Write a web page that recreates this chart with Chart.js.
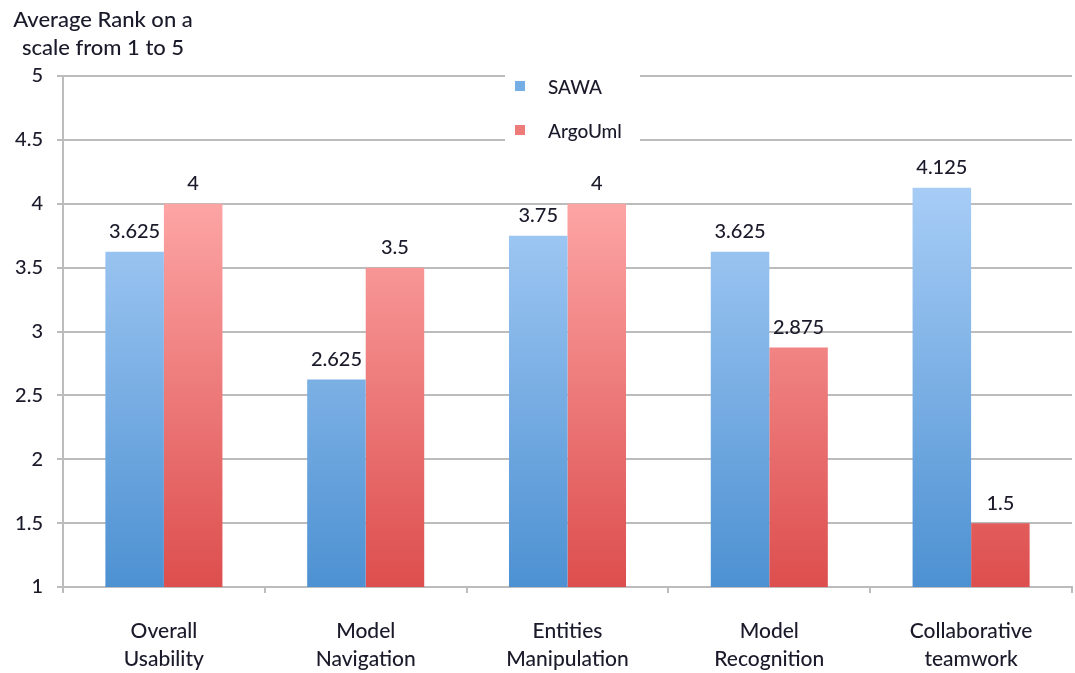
<!DOCTYPE html>
<html>
<head>
<meta charset="utf-8">
<script src="https://cdn.jsdelivr.net/npm/chart.js@4"></script>
<style>
html,body{margin:0;padding:0;background:#fff;}
#wrap{width:1075px;height:673px;position:relative;}
</style>
</head>
<body>
<div id="wrap"><canvas id="c" width="1075" height="673"></canvas></div>
<script>
const categories = [["Overall","Usability"],["Model","Navigation"],["Entities","Manipulation"],["Model","Recognition"],["Collaborative","teamwork"]];
const seriesNames = ["SAWA","ArgoUml"];
const sawaValues = [3.625, 2.625, 3.75, 3.625, 4.125];
const argoValues = [4, 3.5, 4, 2.875, 1.5];
const yTicks = [1, 1.5, 2, 2.5, 3, 3.5, 4, 4.5, 5];
const yTitle = ["Average Rank on a","scale from 1 to 5"];

const FONT = "Lato, 'Open Sans', sans-serif";
const TXT = "#1a1a2a";
const gridColor = "#bcbcbc";

function grad(ctx, top, bottom){
  const chart = ctx.chart;
  const area = chart.chartArea;
  if(!area) return bottom;
  const g = chart.ctx.createLinearGradient(0, area.top + (area.bottom-area.top)*0.2, 0, area.bottom);
  g.addColorStop(0, top);
  g.addColorStop(1, bottom);
  return g;
}

const labelPlugin = {
  id: 'valueLabels',
  afterDatasetsDraw(chart){
    const c = chart.ctx;
    c.save();
    c.font = "500 20px " + FONT;
    c.fillStyle = TXT;
    c.textAlign = "center";
    c.textBaseline = "middle";
    chart.data.datasets.forEach((ds, i) => {
      const meta = chart.getDatasetMeta(i);
      meta.data.forEach((bar, j) => {
        c.fillText(String(ds.data[j]), bar.x, bar.y - 20);
      });
    });
    c.restore();
  }
};

const legendPlugin = {
  id: 'innerLegend',
  afterDatasetsDraw(chart){
    const c = chart.ctx;
    c.save();
    c.fillStyle = "#fff";
    c.fillRect(505, 66, 135, 82);
    const items = [
      {label: chart.data.datasets[0].label, color: "#76aee6", y: 86},
      {label: chart.data.datasets[1].label, color: "#ee7a7a", y: 130}
    ];
    c.font = "500 19px " + FONT;
    c.textBaseline = "middle";
    c.textAlign = "left";
    items.forEach(it => {
      c.fillStyle = it.color;
      c.fillRect(515, it.y - 5, 10, 10);
      c.fillStyle = TXT;
      c.fillText(it.label, 548, it.y + 2);
    });
    c.restore();
  }
};

const titlePlugin = {
  id: 'yTitleTop',
  afterDraw(chart){
    const c = chart.ctx;
    c.save();
    c.font = "500 22px " + FONT;
    c.fillStyle = TXT;
    c.textAlign = "center";
    c.textBaseline = "middle";
    c.fillText(yTitle[0], 103, 20);
    c.fillText(yTitle[1], 103, 48);
    c.restore();
  }
};

new Chart(document.getElementById('c'), {
  type: 'bar',
  data: {
    labels: categories,
    datasets: [
      {label: seriesNames[0], data: sawaValues,
       backgroundColor: ctx => grad(ctx, "#a9cef7", "#4d91d2")},
      {label: seriesNames[1], data: argoValues,
       backgroundColor: ctx => grad(ctx, "#ffaaaa", "#dd4e4e")}
    ]
  },
  options: {
    responsive: false,
    animation: false,
    devicePixelRatio: 1,
    layout: {padding: {top: 76, right: 3, left: 0, bottom: 0}},
    categoryPercentage: 0.58,
    barPercentage: 1.0,
    plugins: {legend: {display: false}, tooltip: {enabled: false}, title: {display: false}},
    scales: {
      x: {
        grid: {drawOnChartArea: false, drawTicks: true, tickLength: 6, color: gridColor, lineWidth: 2, offset: true},
        border: {display: true, color: gridColor, width: 2},
        ticks: {color: TXT, font: {family: FONT, size: 21, weight: '500', lineHeight: 1.35}, padding: 24, maxRotation: 0, autoSkip: false},
        afterFit(scale){ scale.height = 86; }
      },
      y: {
        min: 1, max: 5,
        afterBuildTicks(scale){ scale.ticks = yTicks.map(v => ({value: v})); },
        grid: {color: gridColor, lineWidth: 2, tickLength: 6, drawTicks: true},
        border: {display: true, color: gridColor, width: 2},
        ticks: {color: TXT, font: {family: FONT, size: 20, weight: '500'}, padding: 14, callback: v => String(v)},
        afterFit(scale){ scale.width = 63; }
      }
    }
  },
  plugins: [labelPlugin, legendPlugin, titlePlugin]
});
</script>
</body>
</html>
